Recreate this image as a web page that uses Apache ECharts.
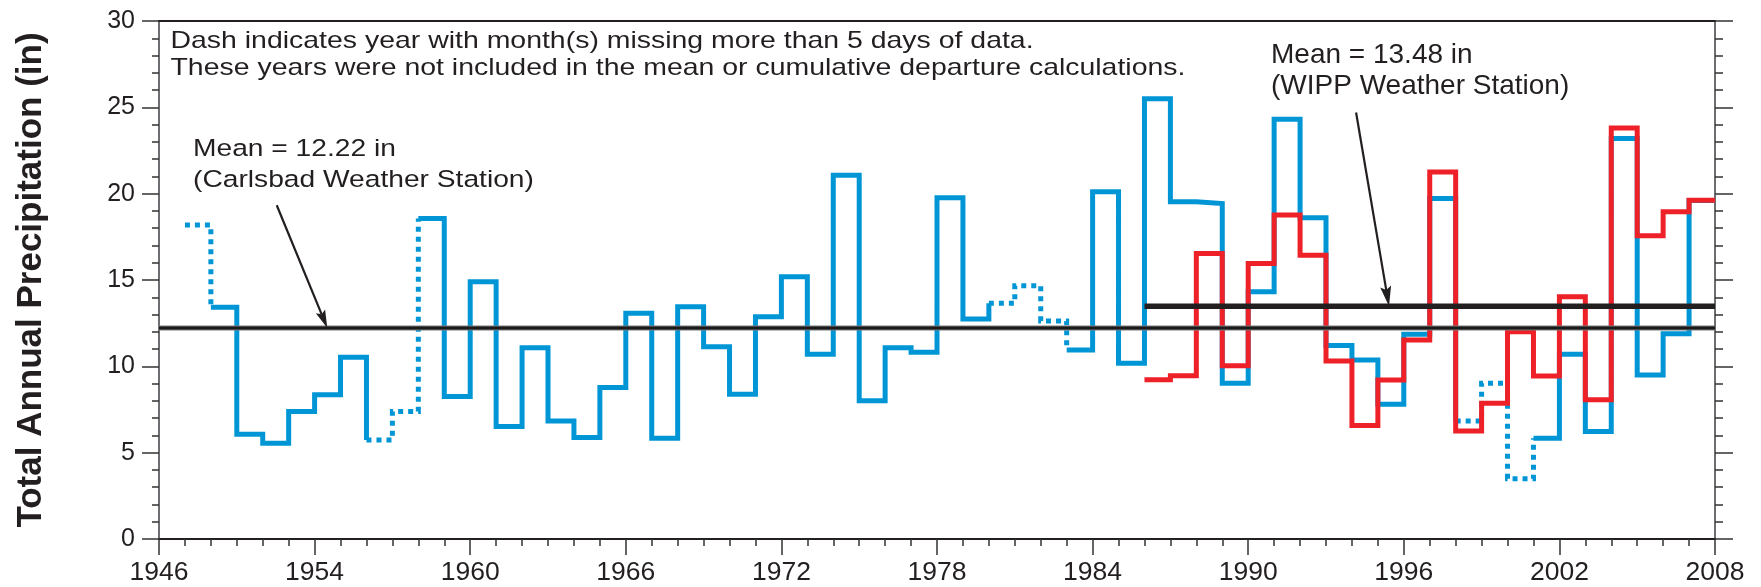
<!DOCTYPE html>
<html>
<head>
<meta charset="utf-8">
<script src="https://cdn.jsdelivr.net/npm/echarts@6/dist/echarts.min.js"></script>
<style>
html,body{margin:0;padding:0;background:#ffffff;}
#chart{width:1761px;height:587px;}
</style>
</head>
<body>
<div id="chart"></div>
<script>
// ---------------- data ----------------
const xAxisStart = 1948;
const xAxisEnd = 2008;
const xTickStep = 6;
const xTickLabels = ['1946','1954','1960','1966','1972','1978','1984','1990','1996','2002','2008'];

const carlsbadYears = [1949,1950,1951,1952,1953,1954,1955,1956,1957,1958,1959,1960,1961,1962,1963,1964,1965,1966,1967,1968,1969,1970,1971,1972,1973,1974,1975,1976,1977,1978,1979,1980,1981,1982,1983,1984,1985,1986,1987,1988,1989,1990,1991,1992,1993,1994,1995,1996,1997,1998,1999,2000,2001,2002,2003,2004,2005,2006,2007];
const carlsbadValues = [18.18,13.42,6.07,5.55,7.38,8.35,10.52,5.74,7.38,18.56,8.25,14.90,6.51,11.08,6.84,5.88,8.77,13.07,5.84,13.45,11.14,8.38,12.87,15.19,10.70,21.07,8.00,11.08,10.81,19.76,12.74,13.65,14.67,12.63,10.95,20.11,10.18,25.50,19.53,19.43,9.02,14.32,24.31,18.60,11.20,10.37,7.81,11.86,19.72,6.84,9.02,3.49,5.84,10.70,6.23,23.19,9.50,11.89,19.60];
const carlsbadMissingYears = [1949,1956,1957,1980,1981,1982,1998,1999,2000];

const wippYears = [1986,1987,1988,1989,1990,1991,1992,1993,1994,1995,1996,1997,1998,1999,2000,2001,2002,2003,2004,2005,2006,2007];
const wippValues = [9.22,9.45,16.54,10.04,15.96,18.76,16.44,10.31,6.57,9.21,11.52,21.26,6.26,7.86,12.01,9.44,14.03,8.06,23.81,17.56,18.95,19.62];

const carlsbadMean = 12.22;
const wippMean = 13.48;

// annotation arrows (data coordinates: [year, inches])
const carlsbadArrowFrom = [1952.54, 19.33];
const carlsbadArrowTo = [1954.49, carlsbadMean];
const wippArrowFrom = [1994.16, 24.70];
const wippArrowTo = [1995.43, wippMean];

// ---------------- helpers ----------------
const FONT = "'Liberation Sans', Arial, Helvetica, sans-serif";
const BLUE = '#0096d6';
const RED = '#ee2129';
const INK = '#231f20';

// Each year drawn as a horizontal step plus the riser to the following year.
function stepPoints(years, vals, include) {
  const pts = [];
  let open = false;
  for (let i = 0; i < years.length; i++) {
    if (!include(years[i])) {
      if (open) { pts.push(['-', '-']); open = false; }
      continue;
    }
    const x0 = years[i] - xAxisStart, x1 = x0 + 1;
    pts.push([x0, vals[i]], [x1, vals[i]]);
    if (i + 1 < years.length) pts.push([x1, vals[i + 1]]);
    open = true;
  }
  return pts;
}
const isMissing = y => carlsbadMissingYears.indexOf(y) >= 0;

const xSpan = xAxisEnd - xAxisStart;

function lineSeries(name, data, color, width, z, dash) {
  return {
    name, type: 'line', data, z,
    showSymbol: false, symbol: 'none', silent: true,
    connectNulls: false, animation: false,
    lineStyle: { color, width, type: dash || 'solid', cap: 'butt', join: 'miter' }
  };
}

const chart = echarts.init(document.getElementById('chart'), null, { renderer: 'canvas' });

const tickStyle = { color: '#333333', width: 1.5 };

chart.setOption({
  animation: false,
  backgroundColor: '#ffffff',
  grid: { left: 159, right: 46, top: 21, bottom: 48, containLabel: false },
  xAxis: [
    {
      type: 'value', position: 'bottom', min: 0, max: xSpan, interval: xTickStep,
      axisLine: { show: true, onZero: false, lineStyle: { color: INK, width: 2 } },
      axisTick: { show: true, inside: false, length: 16, lineStyle: tickStyle },
      minorTick: { show: true, splitNumber: 6, length: 7, lineStyle: tickStyle },
      splitLine: { show: false }, minorSplitLine: { show: false },
      axisLabel: {
        show: true, margin: 20, color: INK, fontSize: 26.5, fontFamily: FONT,
        showMinLabel: true, showMaxLabel: true,
        formatter: v => xTickLabels[Math.round(v / xTickStep)] || ''
      }
    },
    {
      type: 'value', position: 'top', min: 0, max: xSpan, interval: xTickStep,
      axisLine: { show: true, onZero: false, lineStyle: { color: INK, width: 2 } },
      axisTick: { show: false }, minorTick: { show: false },
      axisLabel: { show: false }, splitLine: { show: false }
    }
  ],
  yAxis: [
    {
      type: 'value', position: 'left', min: 0, max: 30, interval: 5,
      axisLine: { show: true, onZero: false, lineStyle: { color: '#6d6e71', width: 2 } },
      axisTick: { show: true, inside: false, length: 17, lineStyle: tickStyle },
      minorTick: { show: true, splitNumber: 5, length: 7, lineStyle: tickStyle },
      splitLine: { show: false }, minorSplitLine: { show: false },
      axisLabel: { show: true, margin: 24, color: INK, fontSize: 25, fontFamily: FONT },
      name: 'Total Annual Precipitation (in)',
      nameLocation: 'middle', nameRotate: 90, nameGap: 110,
      nameTextStyle: { color: INK, fontSize: 35, fontWeight: 'bold', fontFamily: FONT }
    },
    {
      type: 'value', position: 'right', min: 0, max: 30, interval: 5,
      axisLine: { show: true, onZero: false, lineStyle: { color: '#6d6e71', width: 2 } },
      axisTick: { show: true, inside: false, length: 18, lineStyle: tickStyle },
      minorTick: { show: true, splitNumber: 5, length: 8, lineStyle: tickStyle },
      splitLine: { show: false }, minorSplitLine: { show: false },
      axisLabel: { show: false }
    }
  ],
  series: [
    lineSeries('Carlsbad (missing data)', stepPoints(carlsbadYears, carlsbadValues, y => isMissing(y)), BLUE, 5, 2, [5, 5]),
    lineSeries('Carlsbad', stepPoints(carlsbadYears, carlsbadValues, y => !isMissing(y)), BLUE, 5, 3),
    lineSeries('WIPP', stepPoints(wippYears, wippValues, () => true), RED, 5, 4),
    lineSeries('Carlsbad mean edge', [[0, carlsbadMean], [xSpan, carlsbadMean]], '#7a7a7a', 5, 5),
    lineSeries('Carlsbad mean', [[0, carlsbadMean], [xSpan, carlsbadMean]], '#1a1a1a', 3, 6),
    lineSeries('WIPP mean', [[wippYears[0] - xAxisStart, wippMean], [xSpan, wippMean]], INK, 5.5, 6)
  ]
});

// ---------------- annotations ----------------
function px(pt) { return chart.convertToPixel({ gridIndex: 0 }, [pt[0] - xAxisStart, pt[1]]); }

function arrow(fromPt, toPt, headLen, headHalf) {
  const s = px(fromPt), t = px(toPt);
  const dx = t[0] - s[0], dy = t[1] - s[1];
  const len = Math.sqrt(dx * dx + dy * dy);
  const ux = dx / len, uy = dy / len;
  const nx = -uy, ny = ux;
  const bx = t[0] - ux * headLen, by = t[1] - uy * headLen;
  const mx = t[0] - ux * headLen * 0.82, my = t[1] - uy * headLen * 0.82;
  return [
    { type: 'line', silent: true, z: 20,
      shape: { x1: s[0], y1: s[1], x2: mx, y2: my },
      style: { stroke: INK, lineWidth: 2.2 } },
    { type: 'polygon', silent: true, z: 20,
      shape: { points: [[t[0], t[1]], [bx + nx * headHalf, by + ny * headHalf], [mx, my], [bx - nx * headHalf, by - ny * headHalf]] },
      style: { fill: INK } }
  ];
}

function textBlock(text, x, y, size, lineHeight, scaleX) {
  return {
    type: 'text', x, y, scaleX, scaleY: 1, originX: 0, originY: 0, silent: true, z: 20,
    style: { text, x: 0, y: 0, fill: INK, fontSize: size, fontFamily: FONT,
             lineHeight, align: 'left', verticalAlign: 'top' }
  };
}

chart.setOption({
  graphic: [
    textBlock('Dash indicates year with month(s) missing more than 5 days of data.\nThese years were not included in the mean or cumulative departure calculations.',
      170.5, 28.3, 24, 26.7, 1.185),
    textBlock('Mean = 12.22 in\n(Carlsbad Weather Station)', 193, 134, 24.5, 30.5, 1.15),
    textBlock('Mean = 13.48 in\n(WIPP Weather Station)', 1271, 40, 28, 31, 1.0)
  ].concat(arrow(carlsbadArrowFrom, carlsbadArrowTo, 18, 5))
   .concat(arrow(wippArrowFrom, wippArrowTo, 20, 5.5))
});
</script>
</body>
</html>
